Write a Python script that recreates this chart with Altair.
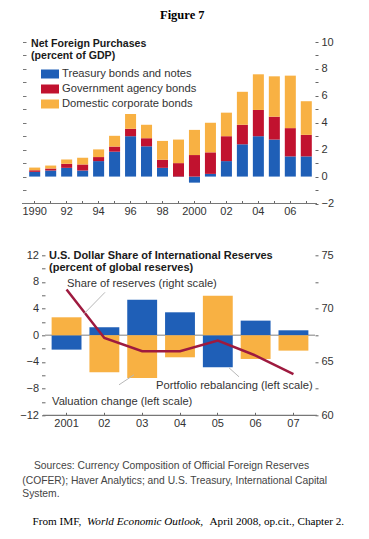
import altair as alt
import pandas as pd

# ---------------- data: top panel ----------------
years_top = ["1990", "91", "92", "93", "94", "95", "96", "97", "98", "99",
             "2000", "01", "02", "03", "04", "05", "06", "07"]
top_tick_labels = ["1990", "92", "94", "96", "98", "2000", "02", "04", "06"]
series_top = ["Treasury bonds and notes", "Government agency bonds", "Domestic corporate bonds"]
treasury = [0.35, 0.45, 0.65, 0.45, 1.15, 1.85, 3.0, 2.25, 0.65, -0.03,
            -0.45, 0.2, 1.15, 2.4, 3.0, 2.75, 1.5, 1.5]
agency = [0.12, 0.15, 0.3, 0.45, 0.3, 0.38, 0.55, 0.6, 0.6, 1.0,
          1.6, 1.6, 1.85, 1.45, 1.95, 1.7, 2.1, 1.6]
corporate = [0.2, 0.22, 0.32, 0.5, 0.57, 0.8, 1.1, 1.0, 1.4, 1.75,
             1.87, 2.2, 1.75, 2.45, 2.65, 3.0, 3.9, 2.5]
top_y_ticks = list(range(-2, 11))
top_left_ticks = list(range(-1, 11))

# ---------------- data: bottom panel ----------------
years_bot = ["2001", "02", "03", "04", "05", "06", "07"]
series_bot = ["Portfolio rebalancing", "Valuation change"]
portfolio = [-2.15, 1.2, 5.35, 3.45, -4.8, 2.2, 0.75]
valuation = [2.7, -5.55, -6.4, -3.3, 5.95, -3.55, -2.3]
share_of_reserves = [71.8, 67.25, 66.0, 66.0, 67.0, 65.6, 63.85]
bot_left_ticks = list(range(-12, 13, 2))
bot_right_ticks = [60, 62.5, 65, 67.5, 70, 72.5, 75]

# ---------------- texts ----------------
fig_title = "Figure 7"
top_title = ["Net Foreign Purchases", "(percent of GDP)"]
bot_title = ["U.S. Dollar Share of International Reserves", "(percent of global reserves)"]
annotations = ["Share of reserves (right scale)",
               "Portfolio rebalancing (left scale)",
               "Valuation change (left scale)"]
sources = ["Sources: Currency Composition of Official Foreign Reserves",
           "(COFER); Haver Analytics; and U.S. Treasury, International Capital",
           "System."]
citation = ["From IMF,", "World Economic Outlook,", "April 2008, op.cit., Chapter 2."]

# ---------------- style ----------------
BLUE = "#1f5fb7"
RED = "#c1122f"
ORANGE = "#f8b143"
LINE = "#9e1a3f"
colors_top = [BLUE, RED, ORANGE]
SANS = "Liberation Sans, Arial, Helvetica, sans-serif"
SERIF = "Liberation Serif, Times New Roman, serif"
W = 289
H1 = 161.5
H2 = 160
AX_FS = 11


def text_layer(s, x, y, size, font=SANS, weight="normal", style="normal", color="#2a2a2a"):
    return alt.Chart(pd.DataFrame({"t": [s]})).mark_text(
        align="left", baseline="alphabetic", font=font, fontSize=size,
        fontWeight=weight, fontStyle=style, color=color
    ).encode(text="t:N", x=alt.value(x), y=alt.value(y))


def leader(x1, y1, x2, y2):
    return alt.Chart(pd.DataFrame({"k": [0]})).mark_rule(color="#b8b8b8", strokeWidth=1).encode(
        x=alt.value(x1), y=alt.value(y1), x2=alt.value(x2), y2=alt.value(y2))


axis_lbl = dict(labelFont=SANS, labelFontSize=AX_FS, labelColor="#333", tickColor="#666",
                title=None, grid=False, domain=False)

# ---------------- top panel ----------------
top_df = pd.DataFrame({
    "year": years_top * 3,
    "series": [s for s in series_top for _ in years_top],
    "value": treasury + agency + corporate,
    "rank": [i for i in range(3) for _ in years_top],
})
top_scale = alt.Scale(domain=[-2, 10], nice=False, zero=False)
label_expr_top = "indexof(" + str(top_tick_labels) + ", datum.label) >= 0 ? datum.label : ''"

bars_top = alt.Chart(top_df).mark_bar().encode(
    x=alt.X("year:N", sort=years_top, scale=alt.Scale(paddingInner=0.31, paddingOuter=0.2),
            axis=alt.Axis(offset=-3, tickSize=3, labelPadding=2, labelAngle=0,
                          labelExpr=label_expr_top, **axis_lbl)),
    y=alt.Y("value:Q", stack="zero", scale=top_scale,
            axis=alt.Axis(orient="right", values=top_y_ticks,
                          labelExpr="datum.value % 2 == 0 ? datum.label : ''",
                          tickSize=3, labelPadding=3, **axis_lbl)),
    color=alt.Color("series:N", scale=alt.Scale(domain=series_top, range=colors_top),
                    legend=alt.Legend(title=None, orient="none", legendX=15, legendY=23,
                                      symbolType="M-1,-0.5H1V0.5H-1Z", symbolSize=324,
                                      symbolStrokeWidth=0, symbolOpacity=1,
                                      labelFont=SANS, labelFontSize=11.2, labelColor="#333",
                                      rowPadding=0, labelOffset=3, padding=0)),
    order=alt.Order("rank:Q"),
)

base_top = alt.Chart(pd.DataFrame({"v": [-2]})).mark_rule(color="#777", strokeWidth=1.2).encode(
    y=alt.Y("v:Q", scale=top_scale,
            axis=alt.Axis(orient="left", values=top_left_ticks, labels=False, tickSize=3.5,
                          tickColor="#777", title=None, grid=False, domain=False)),
    x=alt.value(-4), x2=alt.value(W + 2),
)

top = alt.layer(
    bars_top, base_top,
    text_layer(fig_title, 134, -23.2, 12.5, font=SERIF, weight="bold", color="#000"),
    text_layer(top_title[0], 5, 5.2, 10.6, weight="bold", color="#1a1a1a"),
    text_layer(top_title[1], 5, 17.2, 10.6, weight="bold", color="#1a1a1a"),
).resolve_axis(y="independent").properties(width=W, height=H1)

# ---------------- bottom panel ----------------
bot_df = pd.DataFrame({
    "year": years_bot * 2,
    "series": [s for s in series_bot for _ in years_bot],
    "value": portfolio + valuation,
})


def bot_scale():
    return alt.Scale(domain=[-12, 12], nice=False, zero=False)


zero_rule = alt.Chart(pd.DataFrame({"z": [0]})).mark_rule(color="#aaaaaa", strokeWidth=1.5).encode(
    y=alt.Y("z:Q", scale=bot_scale(), axis=None), x=alt.value(19), x2=alt.value(W))

bars_bot = alt.Chart(bot_df).mark_bar().encode(
    x=alt.X("year:N", sort=years_bot,
            scale=alt.Scale(range=[19, W], paddingInner=0.21, paddingOuter=0.175),
            axis=alt.Axis(offset=-3, tickSize=3, labelPadding=2, labelAngle=0, **axis_lbl)),
    y=alt.Y("value:Q", stack=None, scale=bot_scale(), axis=None),
    color=alt.Color("series:N", scale=alt.Scale(domain=series_bot, range=[BLUE, ORANGE]), legend=None),
)

base_bot = alt.Chart(pd.DataFrame({"b": [-12]})).mark_rule(color="#777", strokeWidth=1.2).encode(
    y=alt.Y("b:Q", scale=bot_scale(),
            axis=alt.Axis(orient="left", offset=-19, values=bot_left_ticks,
                          labelExpr="datum.value % 4 == 0 ? datum.label : ''",
                          tickSize=3.5, labelPadding=3, **axis_lbl)),
    x=alt.value(17), x2=alt.value(W + 2))

line = alt.Chart(pd.DataFrame({"year": years_bot, "share": share_of_reserves})).mark_line(
    color=LINE, strokeWidth=2.5).encode(
    x=alt.X("year:N", sort=years_bot),
    y=alt.Y("share:Q", scale=alt.Scale(domain=[60, 75], nice=False, zero=False),
            axis=alt.Axis(orient="right", values=bot_right_ticks,
                          labelExpr="datum.value % 5 == 0 ? datum.label : ''",
                          tickSize=3, labelPadding=3, **axis_lbl)),
)

bottom = alt.layer(
    zero_rule, bars_bot, base_bot, line,
    text_layer(bot_title[0], 23, 4, 11, weight="bold", color="#1a1a1a"),
    text_layer(bot_title[1], 23, 15.5, 11, weight="bold", color="#1a1a1a"),
    text_layer(annotations[0], 41, 31.7, 11.2, color="#333"),
    text_layer(annotations[1], 130, 134, 11.2, color="#333"),
    text_layer(annotations[2], 26, 150, 11.2, color="#333"),
    leader(79, 37, 58, 58.5),
    leader(203, 112.5, 213, 121.5),
    leader(93, 129.5, 108, 119.5),
    text_layer(sources[0], 8, 213.5, 10.3, color="#444"),
    text_layer(sources[1], -3.7, 228.8, 10.3, color="#444"),
    text_layer(sources[2], -3.7, 241.5, 10.3, color="#444"),
    text_layer(citation[0], 6.5, 269.5, 11.2, font=SERIF, color="#000"),
    text_layer(citation[1], 61, 269.5, 11.2, font=SERIF, style="italic", color="#000"),
    text_layer(citation[2], 183.5, 269.5, 11.2, font=SERIF, color="#000"),
).resolve_scale(y="independent").properties(width=W, height=H2)

chart = alt.vconcat(top, bottom, spacing=51.3, bounds="flush").resolve_scale(
    color="independent"
).properties(
    padding={"left": 11, "top": 0, "right": 4, "bottom": 4}
).configure_view(strokeWidth=0)

chart.save("out.html", embed_options={"renderer": "svg", "actions": False})
